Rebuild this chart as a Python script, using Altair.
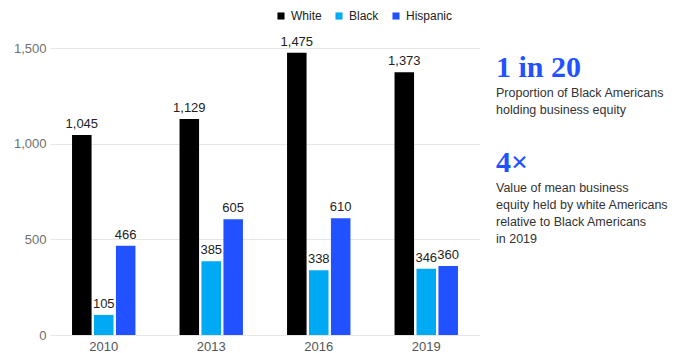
import altair as alt
import pandas as pd

years = ["2010", "2013", "2016", "2019"]
groups = ["White", "Black", "Hispanic"]
white = [1045, 1129, 1475, 1373]
black = [105, 385, 338, 346]
hispanic = [466, 605, 610, 360]
colors = ["#000000", "#00a9f4", "#2251ff"]
y_ticks = [0, 500, 1000, 1500]

stat1 = "1 in 20"
stat1_text = ["Proportion of Black Americans", "holding business equity"]
stat2 = "4\u00d7"
stat2_text = ["Value of mean business", "equity held by white Americans",
              "relative to Black Americans", "in 2019"]

rows = []
for g, vals in zip(groups, [white, black, hispanic]):
    for yr, v in zip(years, vals):
        rows.append({"year": yr, "group": g, "value": v})
df = pd.DataFrame(rows)

SANS = "Liberation Sans"
SERIF = "Liberation Serif"

x = alt.X("year:N", sort=years, title=None,
          scale=alt.Scale(paddingInner=0.41, paddingOuter=0.205),
          axis=alt.Axis(labelAngle=0, ticks=False, domain=False, labelPadding=5,
                        labelFontSize=13, labelColor="#555555", labelFont=SANS))
xo = alt.XOffset("group:N", sort=groups,
                 scale=alt.Scale(paddingInner=0.11, paddingOuter=0))
y = alt.Y("value:Q", title=None,
          scale=alt.Scale(domain=[0, 1500], nice=False),
          axis=alt.Axis(values=y_ticks, format=",d", ticks=False, domain=False,
                        labelPadding=4, labelFontSize=13, labelColor="#707070",
                        labelFont=SANS, gridColor="#e6e6e6", gridWidth=1))
color = alt.Color("group:N", sort=groups,
                  scale=alt.Scale(domain=groups, range=colors),
                  legend=alt.Legend(title=None, orient="none", legendX=225, legendY=-38,
                                    direction="horizontal", symbolType="square",
                                    symbolSize=50, symbolStrokeWidth=0,
                                    labelFontSize=12, labelFont=SANS,
                                    labelColor="#222222", columnPadding=11,
                                    labelOffset=4))

base = alt.Chart(df)
bars = base.mark_bar().encode(x=x, xOffset=xo, y=y, color=color)
labels = base.mark_text(baseline="bottom", dy=-4, fontSize=13, font=SANS,
                        color="#222222").encode(
    x=x, xOffset=xo, y="value:Q", text=alt.Text("value:Q", format=",d"))

ann_df = pd.DataFrame({"k": [0]})
ann = alt.Chart(ann_df)
big1 = ann.mark_text(align="left", baseline="alphabetic", font=SERIF, fontWeight="bold",
                     fontSize=30, color="#2251ff").encode(
    x=alt.value(446), y=alt.value(29), text=alt.value(stat1))
txt1 = ann.mark_text(align="left", baseline="alphabetic", font=SANS, fontSize=12.5,
                     lineHeight=17, color="#333333").encode(
    x=alt.value(446), y=alt.value(49), text=alt.value(stat1_text))
big2 = ann.mark_text(align="left", baseline="alphabetic", font=SERIF, fontWeight="bold",
                     fontSize=30, color="#2251ff").encode(
    x=alt.value(446), y=alt.value(124), text=alt.value(stat2))
txt2 = ann.mark_text(align="left", baseline="alphabetic", font=SANS, fontSize=12.5,
                     lineHeight=17, color="#333333").encode(
    x=alt.value(446), y=alt.value(144), text=alt.value(stat2_text))

chart = alt.layer(bars, labels, big1, txt1, big2, txt2).properties(
    width=430, height=287,
    autosize=alt.AutoSizeParams(type="none"),
    padding={"left": 42, "top": 40, "right": 196, "bottom": 18},
).configure_view(stroke=None)

chart.save("out.html", embed_options={"renderer": "svg", "actions": False})
